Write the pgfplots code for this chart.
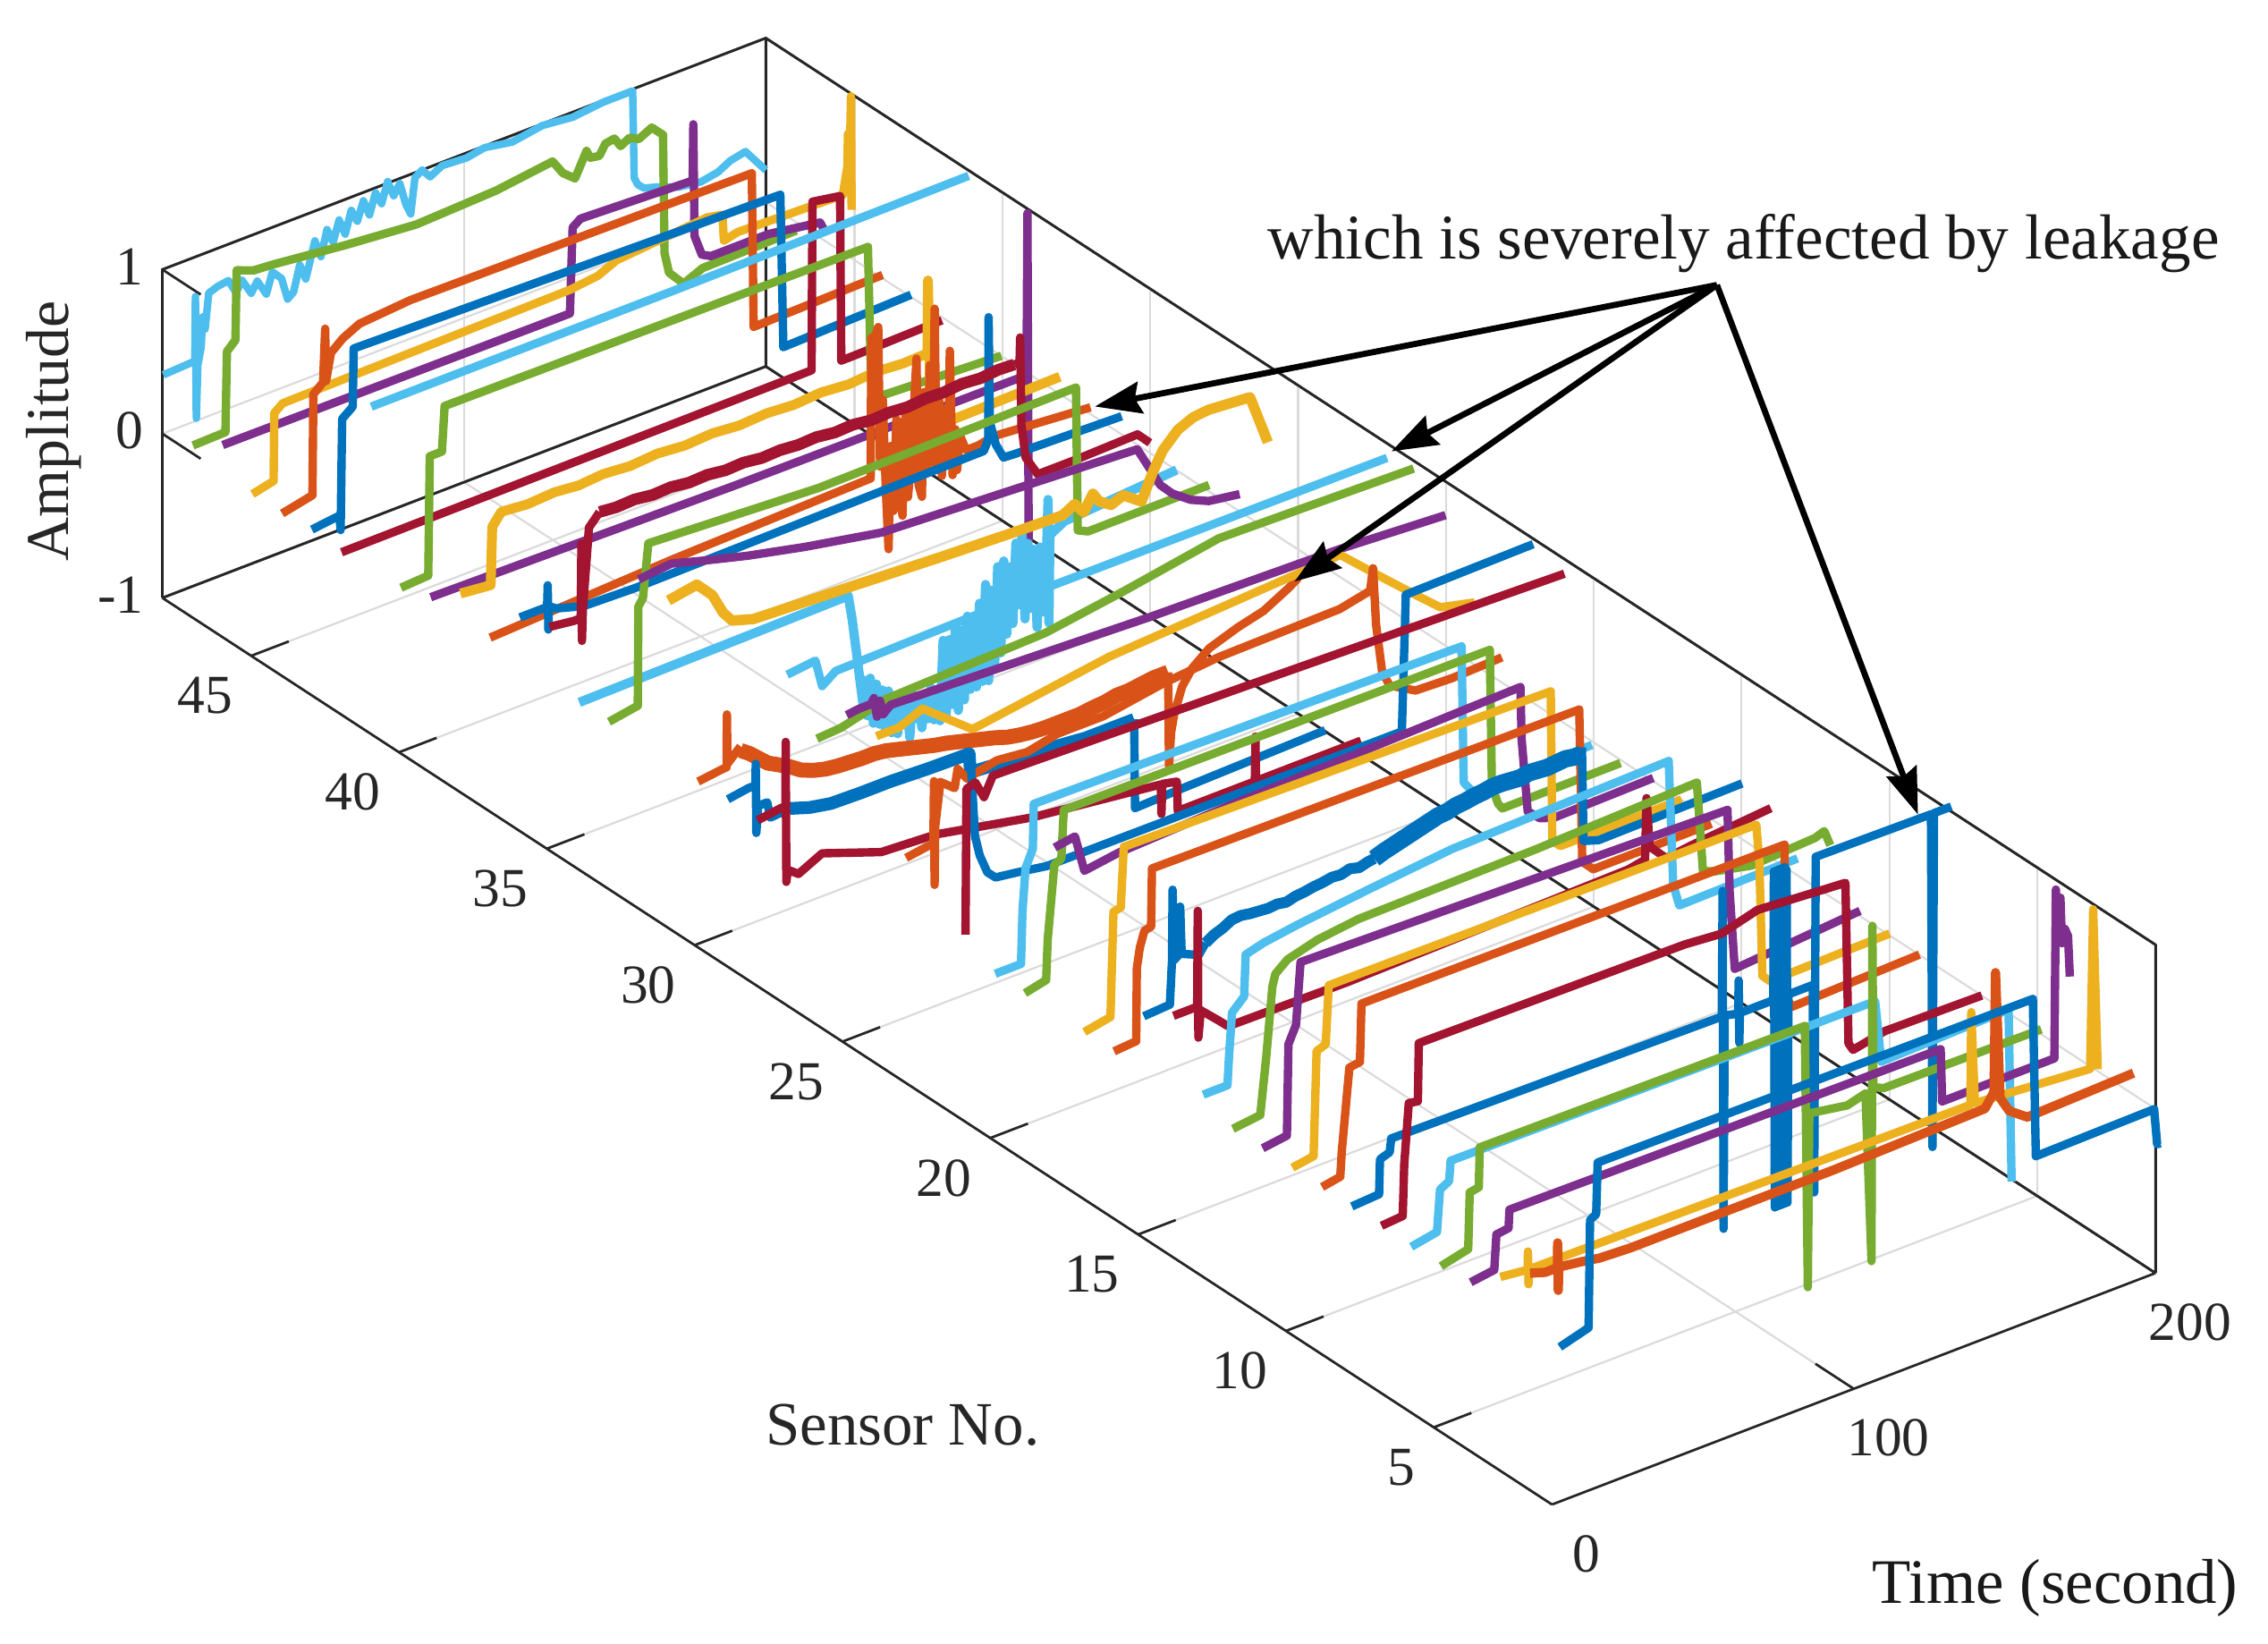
\documentclass[border=0pt]{standalone}
\usepackage{fontspec}
\setmainfont{Liberation Serif}
\usepackage{pgfplots}
\pgfplotsset{compat=1.18}
\usetikzlibrary{arrows.meta}
\definecolor{c1}{RGB}{0,114,189}
\definecolor{c2}{RGB}{217,83,25}
\definecolor{c3}{RGB}{237,177,32}
\definecolor{c4}{RGB}{126,47,142}
\definecolor{c5}{RGB}{119,172,48}
\definecolor{c6}{RGB}{77,190,238}
\definecolor{c7}{RGB}{162,20,47}
\begin{document}
\begin{tikzpicture}
\begin{axis}[
  x={(1.0482pt,0.402pt)}, y={(-10.271pt,6.70pt)}, z={(0pt,57.03pt)},
  xmin=0, xmax=199, ymin=1.261, ymax=48.03, zmin=-.985, zmax=1.005,
  xtick={0,99.5,199}, xticklabels={0,100,200},
  ytick={5.241,10.216,15.191,20.166,25.141,30.116,35.091,40.066,45.041},
  yticklabels={5,10,15,20,25,30,35,40,45},
  ztick={-.985,.01,1.005}, zticklabels={-1,0,1},
  xtick pos=lower, ytick pos=lower, ztick pos=left,
  clip=false, grid=major, major tick length=0pt,
  major grid style={black!14, line width=0.7pt},
  axis line style={black!85, line width=0.85pt},
  tick label style={font=\fontsize{19}{19}\selectfont, text=black!85},
  every axis plot/.append style={line width=2.9pt, line join=round, no markers},
  xticklabel style={anchor=center, xshift=12pt, yshift=-17pt},
  yticklabel style={anchor=east, xshift=-3pt, yshift=-13.8pt},
  zticklabel style={anchor=east, xshift=-3pt, yshift=1pt},
]
\draw[black!85,line width=0.85pt] (axis cs:0,48.03,-.985) -- (axis cs:199,48.03,-.985) -- (axis cs:199,1.261,-.985)
  (axis cs:0,48.03,-.985) -- (axis cs:0,48.03,1.005) -- (axis cs:199,48.03,1.005) -- (axis cs:199,1.261,1.005) -- (axis cs:199,1.261,-.985)
  (axis cs:199,48.03,-.985) -- (axis cs:199,48.03,1.005);
% tick marks lie in the floor and the wall, as in the figure
\foreach \s in {5.241,10.216,15.191,20.166,25.141,30.116,35.091,40.066,45.041} {
  \edef\temp{\noexpand\draw[black!85,line width=0.85pt] (axis cs:0,\s,-.985) -- (axis cs:12.4,\s,-.985);}\temp
}
\draw[black!85,line width=0.85pt] (axis cs:99.5,1.261,-.985) -- (axis cs:99.5,2.55,-.985)
  (axis cs:0,48.03,1.005) -- (axis cs:0,46.74,1.005) (axis cs:0,48.03,.01) -- (axis cs:0,46.74,.01);
% back to front, sensor 48 first
\addplot3[c6,line width=2.6pt] coordinates {(0,48,.37)(10.4,48,.38)(10.6,48,.77)(10.9,48,.03)(11.4,48,.35)(12.5,48,.45)(13,48,.63)(13.8,48,.55)(15,48,.76)(18,48,.78)(21.5,48,.79)(24,48,.7)(26,48,.76)(29,48,.66)(31,48,.72)(34,48,.62)(36,48,.74)(39,48,.68)(41,48,.54)(43,48,.57)(45,48,.72)(47,48,.62)(50,48,.83)(52,48,.72)(54,48,.87)(56,48,.78)(58,48,.9)(60,48,.8)(62,48,.93)(64,48,.85)(66,48,.96)(68,48,.86)(70,48,.98)(72,48,.9)(74,48,1.02)(76,48,.92)(78,48,.98)(80,48,.84)(81.6,48,.77)(83,48,.98)(85.4,48,1.01)(88,48,.95)(92,48,.99)(100,48,.98)(106,48,1)(115,48,.97)(125,48,1)(135,48,.98)(145,48,1)(154.8,48,1)(155.3,48,.47)(156.5,48,.42)(158.5,48,.385)(163,48,.36)(170,48,.31)(177.3,48,.29)(183,48,.31)(187,48,.35)(192,48,.37)(198.7,48,.21)};
\addplot3[c5] coordinates {(0,47,.06)(10.7,47,.065)(11.2,47,.55)(14,47,.6)(14.4,47,1.02)(20,47,.98)(26.7,47,.97)(50,47,.92)(73.6,47,.88)(100,47,.9)(118.6,47,.945)(122,47,.85)(126,47,.79)(129.8,47,.93)(131,47,.88)(134,47,.87)(136,47,.93)(139,47,.94)(141,47,.88)(144,47,.91)(147,47,.88)(151.3,47,.92)(155,47,.85)(155.5,47,.13)(157,47,0)(161.8,47,-.1)(168,47,-.05)(199,47,-.04)};
\addplot3[c4] coordinates {(0,46,.18)(114.5,46,.17)(115.4,46,.685)(118,46,.72)(155,46,.69)(155.2,46,1.03)(155.6,46,.35)(158,46,.22)(161,46,.19)(180,46,.19)(197,46,.14)(198.5,46,.08)};
\addplot3[c3] coordinates {(0,45,0)(7,45,.03)(7.2,45,.44)(10,45,.48)(104.7,45,.5)(114,45,.52)(120,45,.57)(150,45,.62)(155,45,.6)(155.5,45,.44)(160,45,.46)(194.7,45,.44)(196.2,45,.6)(196.4,45,.8)(197,45,.65)(197.4,45,1.02)(197.6,45,.33)};
\addplot3[c2] coordinates {(0,44,0)(10,44,.04)(10.3,44,.65)(13.5,44,.7)(14.2,44,1.02)(14.5,44,.7)(16.1,44,.86)(20,44,.92)(25.5,44,.97)(42.3,44,.995)(154.9,44,.97)(155.5,44,.035)(198,44,.05)};
\addplot3[c1] coordinates {(0,43,.02)(9.1,43,.04)(9.5,43,-.05)(10,43,.62)(13.5,43,.67)(13.8,43,1.02)(154.5,43,.96)(155.5,43,.03)(197.6,43,.05)};
\addplot3[c7] coordinates {(0,42,0)(155,42,.01)(155.3,42,1.03)(164.4,42,1)(164.8,42,0)(168,42,0)(198,42,.01)};
\addplot3[c6] coordinates {(0,41,1)(100,41,1)(197,41,1.01)};
\addplot3[c5] coordinates {(0,40,.02)(9,40,.03)(9.5,40,.75)(13.5,40,.75)(14.4,40,1.02)(154,40,1)(155,40,.2)(155.5,40,.07)(198,40,.03)};
\addplot3[c4] coordinates {(0,39,.08)(100,39,.05)(196.5,39,.04)(196.8,39,1.02)(197.2,39,-.97)};
\addplot3[c3,line width=3.4pt] coordinates {(0,38,.22)(10,38,.2)(10.5,38,.55)(13.5,38,.62)(22,38,.605)(31,38,.615)(39,38,.6)(47,38,.612)(56,38,.598)(65,38,.61)(74,38,.595)(83,38,.605)(92,38,.59)(101,38,.6)(110,38,.588)(119,38,.6)(128,38,.585)(137,38,.598)(146,38,.585)(154,38,.59)(154.2,38,1.03)(155,38,.2)(163,38,.13)(197.7,38,.14)};
\addplot3[c2] coordinates {(0,37,.07)(60,37,.12)(125,37,.15)(125.5,37,.15)(125.7,37,1)(127,37,1)(128,37,1.05)(128.6,37,.2)(129.5,37,.6)(130.5,37,.05)(131.4,37,-.32)(132.2,37,.3)(133,37,-.1)(134,37,.45)(135,37,.02)(136,37,-.15)(137,37,.5)(137.8,37,-.05)(139,37,.2)(140.6,37,.77)(141.3,37,0)(142.4,37,-.08)(143,37,.55)(144,37,.05)(145,37,.7)(146,37,.1)(146.6,37,1.03)(147.2,37,.1)(148,37,.5)(149,37,0)(150,37,.4)(151,37,.05)(151.6,37,.74)(152.5,37,-.02)(153.5,37,.25)(154,37,0)(155,37,.2)(157,37,.1)(161,37,.1)(166,37,.12)(198,37,.07)};
\addplot3[c1] coordinates {(0,36,.31)(9,36,.31)(9.2,36,.44)(9.4,36,.17)(9.6,36,.31)(12,36,.28)(21,36,.23)(38,36,.22)(153,36,.24)(154.5,36,.3)(154.6,36,1.04)(155,36,.4)(157,36,.25)(159.5,36,.155)(163,36,.15)(198.5,36,.13)};
\addplot3[c7] coordinates {(0,35,.37)(8,35,.35)(10.3,35,.35)(10.5,35,.8)(10.7,35,.21)(11,35,.4)(13,35,.88)(16.5,35,.95)};
\addplot3[c7,line width=4pt] coordinates {(16.5,35,.95)(22,35,.94)(28,35,.945)(34,35,.93)(40,35,.935)(46,35,.92)(52,35,.925)(58,35,.91)(64,35,.915)(70,35,.9)(76,35,.905)(82,35,.895)(88,35,.9)(94,35,.885)(100,35,.89)(106,35,.875)(112,35,.88)(118,35,.87)(124,35,.88)(130,35,.875)(136,35,.885)(142,35,.875)(148,35,.885)(153.3,35,.88)};
\addplot3[c7] coordinates {(153.3,35,.88)(155,35,.88)(155.2,35,1.03)(155.6,35,.5)(157,35,.29)(161,35,.16)(173.5,35,.16)(193.9,35,.17)(198,35,.09)};
\addplot3[c6,line width=3.2pt] coordinates {(0,34,.03)(88.7,34,.05)(90,34,-.1)(92,34,-.4)(93.5,34,-.63)(94.2,34,-.5)(95,34,-.72)(96,34,-.5)(97,34,-.78)(98,34,-.55)(99,34,-.8)(100,34,-.6)(101,34,-.85)(102,34,-.62)(103,34,-.88)(104,34,-.68)(105,34,-.9)(106,34,-.7)(107,34,-.86)(108,34,-.72)(109,34,-.95)(110,34,-.7)(111,34,-.85)(112,34,-.75)(113,34,-.92)(114,34,-.72)(115,34,-.88)(116,34,-.7)(117,34,-.9)(118,34,-.8)(119,34,-.92)(120,34,-.44)(121,34,-.9)(122,34,-.45)(123,34,-.85)(124,34,-.4)(125,34,-.9)(126,34,-.42)(127,34,-.85)(128,34,-.35)(129,34,-.8)(130,34,-.4)(131,34,-.8)(132,34,-.3)(133,34,-.78)(134,34,-.2)(135,34,-.79)(136,34,-.25)(137,34,-.7)(138,34,-.12)(139,34,-.65)(140,34,-.1)(141,34,-.55)(142,34,-.15)(143,34,-.5)(144,34,-.02)(145,34,-.4)(146,34,.02)(147,34,-.5)(148,34,-.05)(149,34,-.45)(150,34,-.1)(151,34,-.58)(152,34,-.1)(153,34,-.5)(154,34,-.2)(154.6,34,.17)(154.9,34,-.58)(155.2,34,-.05)(160,34,0)(197,34,.05)};
\addplot3[c5] coordinates {(0,33,.03)(9.5,33,.06)(9.7,33,.66)(11.2,33,.7)(13,33,1.02)(69,33,.96)(154,33,.97)(154.6,33,.1)(158,33,.07)(197.9,33,.07)};
\addplot3[c4] coordinates {(0,32,1.01)(10.8,32,1.03)(22,32,.97)(36,32,.9)(55,32,.82)(80,32,.73)(127,32,.68)(164.4,32,.64)(169.5,32,.46)(172,32,.37)(176,32,.29)(182,32,.21)(188,32,.16)(198.2,32,.13)};
\addplot3[c3,line width=3.6pt] coordinates {(0,31,1)(9.4,31,1.03)(14.5,31,.93)(18,31,.8)(21,31,.73)(28,31,.69)(60,31,.66)(90,31,.63)(114,31,.61)(130,31,.6)(134,31,.64)(137,31,.57)(140,31,.66)(142,31,.6)(146,31,.55)(150,31,.58)(156,31,.5)(159.7,31,.65)(163,31,.76)(168,31,.85)(173,31,.89)(178,31,.9)(191.8,31,.88)(197.7,31,.565)};
\addplot3[c2] coordinates {(0,30,.02)(8.5,30,.04)(9.4,30,.04)(9.5,30,.36)(9.7,30,.06)(14,30,.135)};
\addplot3[c2,line width=5.2pt] coordinates {(14,30,.11)(17,30,.07)(20,30,.02)(23,30,-.03)(26,30,-.06)(30,30,-.1)(34,30,-.15)(38,30,-.18)(42,30,-.2)(46,30,-.21)(50,30,-.215)(54,30,-.22)(58,30,-.22)(62,30,-.23)(66,30,-.25)(70,30,-.27)(74,30,-.29)(78,30,-.31)(82,30,-.325)(86,30,-.345)(90,30,-.365)(94,30,-.385)(98,30,-.405)(102,30,-.43)(106,30,-.445)(110,30,-.455)(114,30,-.46)(118,30,-.46)(122,30,-.46)(126,30,-.46)(130,30,-.45)(134,30,-.445)(138,30,-.43)(142,30,-.43)(146,30,-.42)(150,30,-.41)(155,30,-.41)};
\addplot3[c2] coordinates {(155,30,-.41)(155.3,30,-.98)(156,30,-.78)(157,30,-.68)(159.6,30,-.53)(163,30,-.44)(168.6,30,-.36)(178,30,-.3)(186.5,30,-.26)(194.7,30,-.18)(198,30,-.14)};
\addplot3[c1] coordinates {(0,29,.03)(6.8,29,.05)(9.1,29,.05)(9.2,29,.18)(9.4,29,-.24)(10,29,-.08)(13,29,-.08)(14,29,-.18)(20.5,29,-.17)};
\addplot3[c1,line width=4.4pt] coordinates {(20.5,29,-.17)(27,29,-.21)(34,29,-.235)(44,29,-.24)(53.6,29,-.24)(66,29,-.25)(79.6,29,-.255)(80,29,-.37)(90,29,-.385)(100,29,-.4)(110,29,-.415)(118,29,-.43)(126,29,-.43)(134,29,-.43)};
\addplot3[c1] coordinates {(134,29,-.43)(134.3,29,-.97)(150,29,-.96)(197,29,-.94)};
\addplot3[c7] coordinates {(0,28,.02)(7.6,28,.04)(9.2,28,.04)(9.3,28,.43)(9.5,28,-.42)(10,28,-.35)(13.5,28,-.4)(21.3,28,-.33)(40.8,28,-.46)(58.8,28,-.48)(90.4,28,-.6)(133,28,-.7)(133.2,28,-.88)(133.5,28,-.7)(138.3,28,-.72)(138.6,28,-.9)(164,28,-.9)(164.2,28,-.63)(164.4,28,-.9)(199,28,-.9)};
\addplot3[c6] coordinates {(0,27,1.02)(9.3,27,1.04)(11.5,27,.87)(16,27,.93)(67,27,.945)(197.8,27,.94)};
\addplot3[c5] coordinates {(0,26,.75)(8,26,.76)(22.8,26,.83)(75.4,26,.86)(101,26,.93)(132.5,26,1.03)(196.8,26,1)};
\addplot3[c4] coordinates {(0,25,1.01)(4,25,1.02)(8,25,1.02)(9,25,1.05)(10,25,.93)(11,25,1.02)(12,25,.93)(14.5,25,.97)(100,25,.9)(163,25,.87)(197.5,25,.83)};
\addplot3[c3] coordinates {(0,24,1)(7.5,24,1)(15.2,24,1.06)(31.6,24,.82)(36,24,.83)(76.6,24,.94)(153,24,1.02)(166,24,.8)(178,24,.6)(186,24,.47)(197.3,24,.42)};
\addplot3[c2] coordinates {(0,23,.38)(7,23,.4)(9,23,.4)(9.2,23,.78)(9.4,23,.15)(9.6,23,.5)(11.3,23,.76)(16,23,.69)(17,23,.8)(20,23,.72)(30,23,.76)(40,23,.74)(50,23,.78)(65,23,.78)(85,23,.84)(103,23,.87)(143,23,.88)(153,23,.92)(154,23,1.05)(155,23,.7)(157,23,.4)(159.5,23,.3)(168,23,.21)(180,23,.2)(196.5,23,.21)};
\addplot3[c1] coordinates {(0,22,1.05)(11.4,22,1.05)(12.9,22,.54)(14.5,22,.41)(17,22,.29)(19.7,22,.24)(27,22,.22)(36.5,22,.19)(153.7,22,.18)(155,22,1)(197,22,1.01)};
\addplot3[c7] coordinates {(0,21,.15)(.3,21,1.03)(3.2,21,1.05)(6.1,21,.94)(9,21,1.05)(100,21,1)(197.5,21,.945)};
\addplot3[c6] coordinates {(0,20,.03)(8.5,20,.03)(9,20,.35)(10,20,.6)(12.4,20,.7)(12.7,20,.97)(153.8,20,.93)(154.5,20,.1)(158,20,.01)(196.8,20,.03)};
\addplot3[c5] coordinates {(0,19,.03)(7,19,.06)(7.5,19,.3)(9.7,19,.74)(12,19,.76)(12.8,19,1.05)(153.3,19,1.03)(154,19,.2)(156,19,.08)(157.4,19,.04)(196.4,19,.04)};
\addplot3[c4] coordinates {(0,18,1.03)(6.7,18,1.05)(9.8,18,.82)(21,18,.85)(60,18,.88)(153.6,18,.92)(154,18,.6)(156,18,.15)(160,18,.08)(164.6,18,.05)(197.4,18,.06)};
\addplot3[c3] coordinates {(0,17,.03)(8.6,17,.06)(9.6,17,.69)(12,17,.7)(13,17,1.06)(153.8,17,1.01)(154.3,17,.1)(157,17,.05)(197,17,.05)};
\addplot3[c2] coordinates {(0,16,.03)(7.3,16,.04)(7.5,16,.48)(8.5,16,.6)(10,16,.69)(12.2,16,.7)(12.5,16,1.05)(153.4,16,1.02)(154.4,16,.09)(158,16,.02)(197,16,.02)};
\addplot3[c1] coordinates {(0,15,.36)(8.6,15,.37)(9.3,15,.63)(9.5,15,1.06)(10,15,.63)(11.5,15,.65)(12,15,.94)(12.5,15,.65)(16.2,15,.62)(18,15,.6)(20.4,15,.66)};
\addplot3[c1,line width=3.8pt] coordinates {(20.4,15,.66)(23,15,.69)(26,15,.71)(29,15,.74)(32,15,.745)(35,15,.735)(38,15,.73)(41,15,.725)(44,15,.73)(47,15,.72)(50,15,.735)(53,15,.74)(56,15,.75)(59,15,.755)(62,15,.765)(65,15,.76)(68,15,.775)(71,15,.76)(74,15,.775)(76,15,.78)};
\addplot3[c1,line width=6pt] coordinates {(76,15,.78)(79,15,.8)(82,15,.815)(85,15,.83)(88,15,.845)(91,15,.86)(94,15,.875)(97,15,.89)(100,15,.895)(103,15,.91)(106,15,.915)(109,15,.925)(112,15,.93)(115,15,.94)(118,15,.94)(121,15,.935)(124,15,.93)(127,15,.94)(130,15,.935)(133,15,.93)(136,15,.935)(139,15,.94)(142,15,.93)(144.5,15,.93)};
\addplot3[c1] coordinates {(144.5,15,.97)(145,15,.4)(150,15,.37)(197.3,15,.38)};
\addplot3[c7] coordinates {(0,14,.48)(6,14,.48)(7.8,14,.48)(8,14,1.06)(8.2,14,.29)(9,14,.45)(14.7,14,.35)(18,14,.29)(57,14,.28)(150,14,.31)(155.5,14,.33)(156,14,.7)(157,14,.4)(162.5,14,.29)(171,14,.31)(197,14,.35)};
\addplot3[c6] coordinates {(0,13,.12)(8,13,.12)(8.5,13,.29)(9.5,13,.55)(13.5,13,.62)(14,13,.87)(20,13,.9)(31,13,.93)(55,13,.98)(82,13,1.03)(153.5,13,1.06)(155,13,.3)(157,13,.16)(196,13,.17)};
\addplot3[c5] coordinates {(0,12,.03)(9,12,.05)(11,12,.39)(13,12,.8)(14,12,.87)(18,12,.93)(28,12,.98)(41.5,12,1.01)(100,12,1.02)(153,12,1.05)(155,12,.5)(159,12,.47)(171,12,.42)(192,12,.44)(195,12,.46)(197,12,.36)};
\addplot3[c4] coordinates {(0,11,.03)(8,11,.05)(8.5,11,.6)(11,11,.7)(12.5,11,1.07)(153.3,11,1)(154,11,.5)(155.7,11,.02)(197,11,.08)};
\addplot3[c3] coordinates {(0,10,.03)(7,10,.05)(8,10,.68)(11,10,.7)(12,10,1.05)(153,10,1.03)(154,10,.8)(155,10,.1)(157.5,10,.05)(197,10,.06)};
\addplot3[c2] coordinates {(0,9,.03)(6,9,.05)(6.5,9,.2)(9,9,.69)(12.5,9,.7)(13,9,1.05)(152.5,9,1.03)(153,9,.1)(155,9,.03)(197,9,.05)};
\addplot3[c1] coordinates {(0,8,.03)(9,8,.04)(9.3,8,.25)(12.5,8,.27)(13,8,.35)(122,8,.32)(122.3,8,1.08)(122.6,8,-.97)(123,8,.32)(127.4,8,.3)(127.6,8,.5)(127.8,8,.12)(128,8,.3)(139,8,.3)(139.2,8,1.08)(139.5,8,-.96)(139.8,8,1.05)(140.1,8,-.96)(140.4,8,1.08)(140.7,8,-.96)(141,8,1.08)(141.3,8,-.96)(141.6,8,1.08)(141.9,8,-.96)(142.2,8,1.08)(142.5,8,-.96)(142.8,8,1.08)(143.1,8,-.96)(143.4,8,1.06)(143.7,8,-.96)(144,8,.3)(152,8,.3)(152.5,8,-.96)(153,8,1.07)(191,8,1.06)(191.5,8,-.96)(192,8,1.06)(197.7,8,1.06)};
\addplot3[c7] coordinates {(0,7,.03)(7,7,.04)(7.5,7,.35)(9,7,.71)(12,7,.7)(12.3,7,1.05)(100,7,1.03)(112,7,1.01)(124,7,1.07)(153,7,1.03)(154,7,.05)(155.5,7,0)(166,7,.04)(198,7,.03)};
\addplot3[c6] coordinates {(0,6,.02)(8.5,6,.05)(9.5,6,.3)(12.5,6,.33)(13,6,.45)(153,6,.43)(155,6,.05)(197,6,.07)(198,6,-.98)};
\addplot3[c5] coordinates {(0,5,.02)(9,5,.06)(9.5,5,.4)(12.5,5,.41)(12.8,5,.65)(120,5,.63)(121,5,-.96)(121.5,5,.09)(134,5,.05)(140,5,.08)(142,5,-.95)(142.3,5,1.08)(142.6,5,.1)(146,5,.07)(198,5,.06)};
\addplot3[c4] coordinates {(0,4,.04)(7.8,4,.06)(8.5,4,.27)(12.5,4,.28)(12.8,4,.39)(155,4,.36)(155.5,4,.04)(192.5,4,.04)(193,4,1.06)(193.5,4,.85)(194.5,4,1)(195,4,.72)(196,4,.8)(197,4,.75)(197.6,4,.5)};
\addplot3[c3] coordinates {(0,3,.19)(9,3,.17)(9.1,3,.28)(9.3,3,.08)(9.5,3,.17)(100,3,.15)(155,3,.14)(155.3,3,.7)(156.5,3,.14)(194.5,3,.08)(195.5,3,1.04)(197,3,.06)};
\addplot3[c2,line width=3.2pt] coordinates {(0,2,.33)(5,2,.3)(9,2,.3)(9.1,2,.45)(9.3,2,.16)(9.5,2,.3)(17,2,.28)(23,2,.26)(33,2,.25)(100,2,.25)(150,2,.27)(153,2,.35)(153.5,2,1.07)(155,2,.3)(158,2,.2)(164,2,.12)(199,2,.14)};
\addplot3[c1] coordinates {(0,1,0)(9.5,1,.05)(10,1,.7)(12,1,.72)(12.5,1,1.03)(156,1,1.01)(157,1,.05)(196,1,.06)(197,1,-.16)(198,1,-.16)};
\coordinate (O) at (axis cs:0,1.261,-.985);
\end{axis}
\begin{scope}[shift={(O)},x=.5pt,y=-.5pt,shift={(-1073,-1040)}]
  \pgfresetboundingbox
  \path[use as bounding box] (0,0) rectangle (1568,1136.4);
  \foreach \tip in {(757,281),(962,312),(895,402),(1326,563)}
    \draw[line width=2.1pt,-{Stealth[length=16pt,width=11pt,inset=2pt]}] (1187,197) -- \tip;
  \node[font=\fontsize{22}{22}\selectfont,text=black!90] at (1205.5,168) {which is severely affected by leakage};
  \node[font=\fontsize{21}{21}\selectfont,text=black!85,rotate=90] at (37,298) {Amplitude};
  \node[font=\fontsize{21.3}{21.3}\selectfont,text=black!85] at (624,985) {Sensor No.};
  \node[font=\fontsize{21.9}{21.9}\selectfont,text=black!90] at (1421,1098) {Time (second)};
\end{scope}
\end{tikzpicture}
\end{document}
